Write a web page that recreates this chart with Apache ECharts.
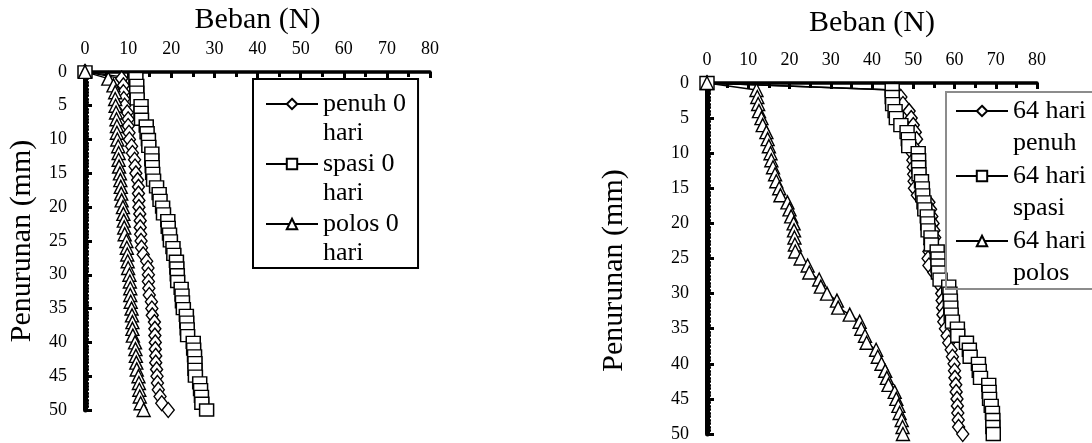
<!DOCTYPE html>
<html>
<head>
<meta charset="utf-8">
<script src="https://cdn.jsdelivr.net/npm/echarts@6/dist/echarts.min.js"></script>
<style>
  html, body { margin: 0; padding: 0; background: #fff; }
  #chart { width: 1092px; height: 443px; }
</style>
</head>
<body>
<div id="chart"></div>
<script>
// penurunan (mm), sama untuk semua seri
const penurunan = [0, 1, 2, 3, 4, 5, 6, 7, 8, 9, 10, 11, 12, 13, 14, 15, 16, 17, 18, 19, 20,
  21, 22, 23, 24, 25, 26, 27, 28, 29, 30, 31, 32, 33, 34, 35, 36, 37, 38, 39, 40,
  41, 42, 43, 44, 45, 46, 47, 48, 49, 50]

// beban (N) umur 0 hari
const penuh0 = [0, 8.5, 8.9, 8.9, 9.0, 9.2, 9.8, 10.0, 10.0, 10.2, 10.3, 10.8, 11.0, 11.5, 11.6, 11.8,
  12.2, 12.4, 12.4, 12.5, 12.5, 12.7, 12.8, 12.8, 12.9, 13.0, 13.1, 13.5, 14.3, 14.6, 14.7,
  14.7, 14.8, 14.9, 15.4, 15.5, 15.6, 16.1, 16.2, 16.2, 16.3, 16.3, 16.4, 16.4, 16.6, 16.7,
  16.8, 17.0, 17.4, 17.8, 19.3]
const spasi0 = [0, 11.8, 12.0, 12.0, 12.1, 13.0, 13.0, 13.1, 14.2, 14.4, 14.7, 14.8, 15.5, 15.5, 15.6, 15.7,
  15.9, 16.6, 17.2, 17.4, 18.0, 18.2, 19.2, 19.3, 19.6, 19.8, 20.4, 20.6, 21.2, 21.3, 21.4,
  21.5, 22.3, 22.5, 22.6, 22.8, 23.5, 23.6, 23.7, 23.8, 25.1, 25.2, 25.4, 25.5, 25.5, 25.6,
  26.6, 26.8, 27.0, 27.1, 28.2]
const polos0 = [0, 5.4, 6.6, 7.0, 7.0, 7.1, 7.2, 7.3, 7.4, 7.4, 7.5, 7.7, 7.8, 7.8, 7.9, 8.1,
  8.2, 8.3, 8.4, 8.5, 8.8, 8.9, 9.0, 9.1, 9.2, 9.6, 9.7, 9.8, 9.9, 10.0, 10.3,
  10.4, 10.5, 10.5, 10.6, 10.8, 10.9, 11.0, 11.0, 11.1, 11.6, 11.7, 11.8, 11.9, 12.0, 12.4,
  12.5, 12.6, 12.7, 12.9, 13.6]

// beban (N) umur 64 hari
const penuh64 = [0, 45.5, 47.0, 47.5, 49.0, 49.5, 50.0, 50.5, 50.8, 50.0, 49.8, 49.9, 50.0, 50.1, 50.2, 50.3,
  51.0, 53.8, 54.2, 54.5, 54.8, 55.0, 55.2, 54.0, 53.8, 53.6, 53.8, 55.0, 56.3, 56.7, 56.9,
  57.0, 57.1, 57.2, 57.4, 57.8, 58.2, 58.6, 59.2, 59.5, 59.9, 60.0, 60.1, 60.3, 60.4, 60.6,
  60.7, 60.8, 60.9, 61.0, 62.0]
const spasi64 = [0, 44.9, 44.9, 45.0, 45.6, 45.9, 47.0, 48.5, 48.8, 48.9, 51.2, 51.3, 51.3, 51.4, 52.0, 52.2,
  52.3, 52.6, 52.8, 53.4, 53.5, 53.6, 54.3, 54.4, 55.8, 56.0, 56.0, 56.1, 56.5, 58.6, 58.9,
  59.0, 59.1, 59.2, 59.5, 60.7, 60.8, 62.9, 63.6, 63.8, 65.8, 66.0, 66.3, 68.3, 68.4, 68.5,
  68.9, 69.2, 69.3, 69.3, 69.4]
const polos64 = [0, 12.0, 12.2, 12.4, 12.6, 13.2, 13.5, 14.4, 14.7, 15.0, 15.4, 15.6, 16.0, 16.5, 16.8, 17.5,
  17.8, 19.5, 20.0, 20.4, 21.0, 21.1, 21.2, 21.3, 21.4, 22.7, 24.4, 24.8, 27.2, 27.6, 29.1,
  31.5, 31.8, 34.6, 37.0, 37.4, 38.3, 38.7, 41.0, 41.4, 42.3, 43.2, 43.6, 44.0, 45.5, 45.9,
  46.4, 46.7, 47.2, 47.4, 47.5]

const namaKiri = ['penuh 0\nhari', 'spasi 0\nhari', 'polos 0\nhari']
const namaKanan = ['64 hari\npenuh', '64 hari\nspasi', '64 hari\npolos']

const FONT = 'Liberation Serif'

function pairs(xs) {
  return xs.map((x, i) => [x, penurunan[i]])
}

function xAxisOpt(idx, gap) {
  return {
    gridIndex: idx,
    type: 'value',
    position: 'top',
    min: 0,
    max: 80,
    interval: 10,
    name: 'Beban (N)',
    nameLocation: 'middle',
    nameGap: gap,
    nameTextStyle: { fontFamily: FONT, fontSize: 30, color: '#000' },
    axisLine: { show: true, onZero: false, lineStyle: { color: '#000', width: 3.5 } },
    axisTick: { show: true, inside: true, length: 6, lineStyle: { color: '#000', width: 3 } },
    minorTick: { show: true, splitNumber: 2, length: 5, lineStyle: { color: '#000', width: 3 } },
    axisLabel: { fontFamily: FONT, fontSize: 18, color: '#000', margin: 14 },
    splitLine: { show: false },
  }
}

function yAxisOpt(idx, gap, pad) {
  return {
    gridIndex: idx,
    type: 'value',
    inverse: true,
    min: 0,
    max: 50,
    interval: 5,
    name: 'Penurunan (mm)',
    nameLocation: 'middle',
    nameGap: gap,
    nameTextStyle: { fontFamily: FONT, fontSize: 30, color: '#000', padding: pad },
    axisLine: { show: true, onZero: false, lineStyle: { color: '#000', width: 5 } },
    axisTick: { show: true, inside: true, length: 7, lineStyle: { color: '#000', width: 3 } },
    minorTick: { show: true, splitNumber: 10, length: 4, lineStyle: { color: '#000', width: 2.5 } },
    axisLabel: { fontFamily: FONT, fontSize: 18, color: '#000', margin: 18 },
    splitLine: { show: false },
  }
}

function seri(name, xs, idx, symbol, size) {
  return {
    name: name,
    type: 'line',
    xAxisIndex: idx,
    yAxisIndex: idx,
    data: pairs(xs),
    symbol: symbol,
    symbolSize: size,
    showAllSymbol: true,
    lineStyle: { color: '#000', width: 1.4 },
    itemStyle: { color: '#fff', borderColor: '#000', borderWidth: 1.4 },
    emphasis: { disabled: true },
  }
}

// teks legenda dua baris, baris pertama sejajar dengan ikon
function legendOpt(names, left, top, pad, border, gap, lh) {
  return {
    data: names,
    orient: 'vertical',
    left: left,
    top: top,
    itemWidth: 52,
    itemHeight: 13,
    itemGap: gap,
    padding: pad,
    borderColor: border,
    borderWidth: 2,
    selectedMode: false,
    formatter: function (name) {
      return name.split('\n').map(s => '{t|' + s + '}').join('\n')
    },
    textStyle: {
      color: '#000',
      padding: [lh, 0, 0, 0],
      rich: { t: { fontFamily: FONT, fontSize: 26, color: '#000', lineHeight: lh } },
    },
  }
}

const chart = echarts.init(document.getElementById('chart'))
chart.setOption({
  animation: false,
  backgroundColor: '#fff',
  grid: [
    { left: 85, top: 70, width: 345, height: 340 },
    { left: 707, top: 83, width: 330, height: 353 },
  ],
  xAxis: [xAxisOpt(0, 30), xAxisOpt(1, 45)],
  yAxis: [yAxisOpt(0, 48, [0, 0, 0, 0]), yAxisOpt(1, 78, [0, 24, 0, 0])],
  legend: [
    legendOpt(namaKiri, 253, 79, [12, 12, 2, 12], '#000', 5, 29),
    legendOpt(namaKanan, 946, 92, [6, 60, 3, 9], '#8c8c8c', 7, 32),
  ],
  series: [
    seri(namaKiri[0], penuh0, 0, 'diamond', [12, 15]),
    seri(namaKiri[1], spasi0, 0, 'rect', [14, 12]),
    seri(namaKiri[2], polos0, 0, 'triangle', [13, 13]),
    seri(namaKanan[0], penuh64, 1, 'diamond', [12, 15]),
    seri(namaKanan[1], spasi64, 1, 'rect', [14, 13]),
    seri(namaKanan[2], polos64, 1, 'triangle', [13, 13]),
  ],
})
</script>
</body>
</html>
